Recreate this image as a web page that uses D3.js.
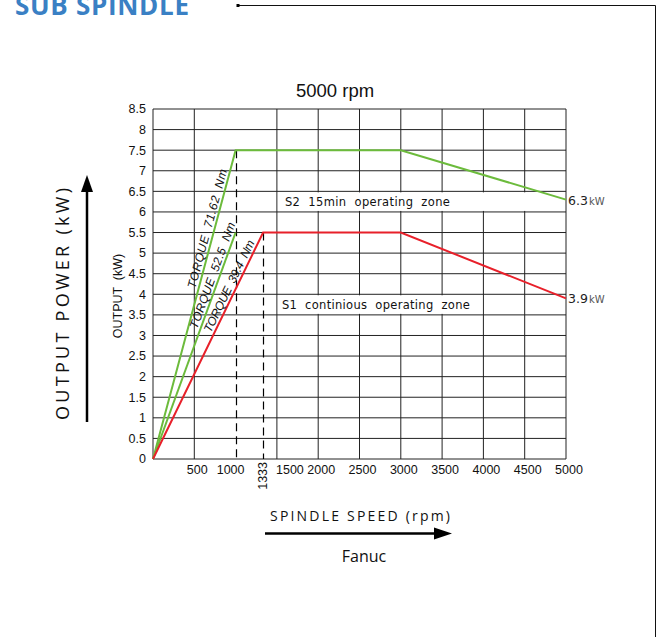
<!DOCTYPE html>
<html>
<head>
<meta charset="utf-8">
<script src="https://cdn.jsdelivr.net/npm/d3@7"></script>
<style>
  html, body { margin: 0; padding: 0; background: #fff; }
  svg { display: block; }
  text { white-space: pre; }
</style>
</head>
<body>
<div id="container"></div>
<script>
// chart values
const xGrid = [0, 500, 1500, 2000, 2500, 3000, 3500, 4000, 4500, 5000];
const yTicks = [0, 0.5, 1, 1.5, 2, 2.5, 3, 3.5, 4, 4.5, 5, 5.5, 6, 6.5, 7, 7.5, 8, 8.5];
const xLabels = ['500', '1000', '1500', '2000', '2500', '3000', '3500', '4000', '4500', '5000'];
const s2Speed = [0, 1000, 3000, 5000];
const s2Power = [0, 7.5, 7.5, 6.3];
const s1Speed = [0, 1333, 3000, 5000];
const s1Power = [0, 5.5, 5.5, 3.9];
const torqueLabels = ['TORQUE  71.62  Nm', 'TORQUE  52.5  Nm', 'TORQUE  39.4  Nm'];
const torqueCorner = [[1000, 7.5], [1000, 5.5], [1333, 5.5]];
const baseSpeeds = [1000, 1333];
const basePowers = [7.5, 5.5];

const width = 659, height = 637;
const green = '#6cbb3c', red = '#e8202a';

const svg = d3.select('#container').append('svg')
    .attr('width', width)
    .attr('height', height);

const x = d3.scaleLinear().domain([0, 5000]).range([153, 566]);
const y = d3.scaleLinear().domain([0, 8.5]).range([459, 109]);

// header and frame (header is clipped by the top edge, as in the source)
svg.append('text')
    .attr('x', 15).attr('y', 15)
    .attr('font-family', 'Open Sans, sans-serif')
    .attr('font-weight', 700)
    .attr('font-size', 26)
    .attr('textLength', 174)
    .attr('fill', '#3a80c4')
    .text('SUB SPINDLE');
svg.append('path')
    .attr('d', 'M238,5.5H655.5V637')
    .attr('fill', 'none')
    .attr('stroke', '#111')
    .attr('stroke-width', 1);
svg.append('rect')
    .attr('x', 236.5).attr('y', 4).attr('width', 3).attr('height', 3)
    .attr('fill', '#000');

// grid
const grid = svg.append('g').attr('stroke', '#222').attr('stroke-width', 1);
grid.selectAll('line.v').data(xGrid).join('line')
    .attr('class', 'v')
    .attr('x1', d => x(d)).attr('x2', d => x(d))
    .attr('y1', y(8.5)).attr('y2', y(0));
grid.selectAll('line.h').data(yTicks).join('line')
    .attr('class', 'h')
    .attr('x1', x(0)).attr('x2', x(5000))
    .attr('y1', d => y(d)).attr('y2', d => y(d));

// white bands behind zone labels
svg.append('rect')
    .attr('x', x(1500) + 1).attr('y', y(6.5) + 1)
    .attr('width', x(5000) - x(1500) - 2).attr('height', y(6) - y(6.5) - 2)
    .attr('fill', '#fff');
svg.append('rect')
    .attr('x', x(1500) + 1).attr('y', y(4) + 1)
    .attr('width', x(4000) - x(1500) - 2).attr('height', y(3.5) - y(4) - 2)
    .attr('fill', '#fff');

// dashed base-speed lines
svg.selectAll('line.base').data(baseSpeeds).join('line')
    .attr('class', 'base')
    .attr('x1', d => Math.round(x(d)) + 0.5).attr('x2', d => Math.round(x(d)) + 0.5)
    .attr('y1', (d, i) => y(basePowers[i])).attr('y2', y(0))
    .attr('stroke', '#000')
    .attr('stroke-width', 1.2)
    .attr('stroke-dasharray', '8,5');

// curves
const line = d3.line().x(d => x(d[0])).y(d => y(d[1]));
svg.append('path')
    .attr('d', line([[0, 0], [1000, 5.5]]))
    .attr('fill', 'none').attr('stroke', green).attr('stroke-width', 2);
svg.append('path')
    .attr('d', line(s2Speed.map((s, i) => [s, s2Power[i]])))
    .attr('fill', 'none').attr('stroke', green).attr('stroke-width', 2);
svg.append('path')
    .attr('d', line(s1Speed.map((s, i) => [s, s1Power[i]])))
    .attr('fill', 'none').attr('stroke', red).attr('stroke-width', 2);

// torque labels along the slopes
const torquePos = [0.74, 0.8, 0.75];
const torqueLen = [123, 112, 101];
torqueLabels.forEach((label, i) => {
    const [cs, cp] = torqueCorner[i];
    const px = x(cs * torquePos[i]), py = y(cp * torquePos[i]);
    const ang = Math.atan2(y(cp) - y(0), x(cs) - x(0)) * 180 / Math.PI;
    svg.append('text')
        .attr('transform', `translate(${px},${py}) rotate(${ang})`)
        .attr('dy', -3)
        .attr('text-anchor', 'middle')
        .attr('font-family', 'Liberation Sans, Arial, sans-serif')
        .attr('font-style', 'italic')
        .attr('font-size', 12)
        .attr('textLength', torqueLen[i])
        .attr('lengthAdjust', 'spacing')
        .attr('fill', '#111')
        .text(label);
});

// zone labels
const zoneFont = 'DejaVu Sans, sans-serif';
svg.append('text')
    .attr('x', x(1500) + 8).attr('y', y(6.25) + 4)
    .attr('font-family', zoneFont).attr('font-size', 11.5)
    .attr('textLength', 165).attr('lengthAdjust', 'spacing')
    .attr('fill', '#111')
    .text('S2  15min  operating  zone');
svg.append('text')
    .attr('x', x(1500) + 5).attr('y', y(3.75) + 4)
    .attr('font-family', zoneFont).attr('font-size', 11.5)
    .attr('textLength', 188).attr('lengthAdjust', 'spacing')
    .attr('fill', '#111')
    .text('S1  continious  operating  zone');

// end values
[s2Power[3], s1Power[3]].forEach(p => {
    const t = svg.append('text')
        .attr('x', x(5000) + 2).attr('y', y(p) + 5)
        .attr('font-family', 'DejaVu Sans, sans-serif')
        .attr('fill', '#222');
    t.append('tspan').attr('font-size', 12.5).text(p.toFixed(1));
    t.append('tspan').attr('font-size', 10).attr('fill', '#555').attr('dx', 1).text('kW');
});

// y tick labels
svg.selectAll('text.ytick').data(yTicks).join('text')
    .attr('class', 'ytick')
    .attr('x', 146).attr('y', d => y(d))
    .attr('dy', '0.35em')
    .attr('text-anchor', 'end')
    .attr('font-family', 'Liberation Sans, Arial, sans-serif')
    .attr('font-size', 12.5)
    .attr('fill', '#111')
    .text(d => d);

// x tick labels
const xShift = { '1000': -5, '1500': 13 };
svg.selectAll('text.xtick').data(xLabels).join('text')
    .attr('class', 'xtick')
    .attr('x', d => x(+d) + (xShift[d] !== undefined ? xShift[d] : 3))
    .attr('y', 474)
    .attr('text-anchor', 'middle')
    .attr('font-family', 'Liberation Sans, Arial, sans-serif')
    .attr('font-size', 12.5)
    .attr('fill', '#111')
    .text(d => d);
svg.append('text')
    .attr('transform', `translate(${x(1333) + 4},462) rotate(-90)`)
    .attr('text-anchor', 'end')
    .attr('font-family', 'Liberation Sans, Arial, sans-serif')
    .attr('font-size', 12.5)
    .attr('fill', '#111')
    .text('1333');

// axis titles
svg.append('text')
    .attr('transform', 'translate(122,296) rotate(-90)')
    .attr('text-anchor', 'middle')
    .attr('font-family', 'Liberation Sans, Arial, sans-serif')
    .attr('font-size', 12.5)
    .attr('fill', '#111')
    .text('OUTPUT  (kW)');
svg.append('text')
    .attr('x', 335).attr('y', 97)
    .attr('text-anchor', 'middle')
    .attr('font-family', 'Liberation Sans, Arial, sans-serif')
    .attr('font-size', 18.5)
    .attr('fill', '#111')
    .text('5000 rpm');

// big arrows and labels
svg.append('text')
    .attr('transform', 'translate(69,304) rotate(-90)')
    .attr('text-anchor', 'middle')
    .attr('font-family', 'Open Sans, sans-serif')
    .attr('font-size', 18)
    .attr('textLength', 232)
    .attr('lengthAdjust', 'spacing')
    .attr('fill', '#111')
    .text('OUTPUT POWER (kW)');
svg.append('line')
    .attr('x1', 87).attr('x2', 87).attr('y1', 422).attr('y2', 188)
    .attr('stroke', '#000').attr('stroke-width', 2.5);
svg.append('path')
    .attr('d', 'M87,175L81,192L93,192Z')
    .attr('fill', '#000');

svg.append('text')
    .attr('x', 360).attr('y', 521)
    .attr('text-anchor', 'middle')
    .attr('font-family', 'Open Sans, sans-serif')
    .attr('font-size', 14)
    .attr('textLength', 180)
    .attr('lengthAdjust', 'spacing')
    .attr('fill', '#111')
    .text('SPINDLE SPEED (rpm)');
svg.append('line')
    .attr('x1', 265).attr('x2', 438).attr('y1', 533.5).attr('y2', 533.5)
    .attr('stroke', '#000').attr('stroke-width', 2.5);
svg.append('path')
    .attr('d', 'M452,533.5L434,527.5L434,539.5Z')
    .attr('fill', '#000');
svg.append('text')
    .attr('x', 364).attr('y', 562)
    .attr('text-anchor', 'middle')
    .attr('font-family', 'Open Sans, sans-serif')
    .attr('font-size', 16)
    .attr('fill', '#111')
    .text('Fanuc');
</script>
</body>
</html>
